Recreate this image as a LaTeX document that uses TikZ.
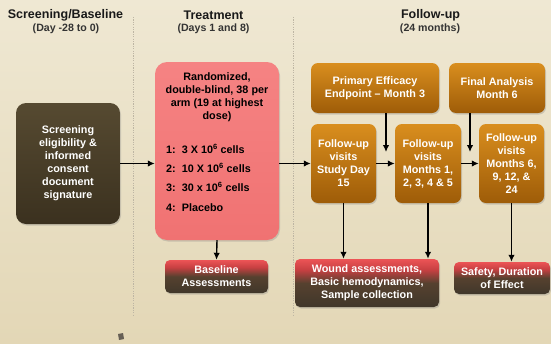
\documentclass[tikz,border=0pt]{standalone}
\usepackage{fontspec}
\setmainfont{Liberation Sans}
\usetikzlibrary{arrows.meta,shadows}
\definecolor{bgtop}{HTML}{EFE8D3}
\definecolor{bgbot}{HTML}{E3D7B6}
\definecolor{dktop}{HTML}{564A31}
\definecolor{dkbot}{HTML}{3B311F}
\definecolor{ortop}{HTML}{D98E1E}
\definecolor{orbot}{HTML}{9E5C08}
\definecolor{pktop}{HTML}{F58383}
\definecolor{pkbot}{HTML}{F07272}
\definecolor{dkb}{HTML}{40372A}
\definecolor{dkbtwo}{HTML}{56412F}
\definecolor{redc}{HTML}{C84042}
\definecolor{redt}{HTML}{EC5456}
\definecolor{sepcol}{HTML}{BDB5A3}
\pgfdeclareverticalshading{redtodark}{100bp}{color(0bp)=(dkb); color(25bp)=(dkb); color(50bp)=(dkbtwo); color(64bp)=(redc); color(75bp)=(redt); color(100bp)=(redt)}
\newcommand\boxfont{\fontsize{10.8}{13}\selectfont\bfseries}
\newcommand\headfont{\fontsize{12.5}{14}\selectfont\bfseries}
\newcommand\subfont{\fontsize{10.6}{13}\selectfont\bfseries}
\begin{document}
\begin{tikzpicture}[x=1pt,y=-1pt,
  shad/.style={drop shadow={shadow xshift=1pt,shadow yshift=-1.5pt,opacity=0.3}},
  base/.style={inner sep=0pt,align=center,font=\boxfont,shad},
  darkbox/.style={base,rounded corners=10pt,top color=dktop,bottom color=dkbot,text=white},
  orangebox/.style={base,rounded corners=7pt,top color=ortop,bottom color=orbot,text=white},
  rdbox/.style={base,rounded corners=5pt,shading=redtodark,text=white},
  pinkbox/.style={base,rounded corners=12pt,top color=pktop,bottom color=pkbot},
  head/.style={font=\headfont,text=black!90,inner sep=0pt},
  subhead/.style={font=\subfont,text=black!80,inner sep=0pt},
  arr/.style={-{Latex[length=7pt,width=6.5pt]},line width=1.4pt,black},
  sep/.style={draw=sepcol,line width=0.8pt,dash pattern=on 1.2pt off 1.2pt}
]
\useasboundingbox (0,0) rectangle (551,343);
\shade[top color=bgtop,bottom color=bgbot] (0,0) rectangle (551,343);
\fill[dkb!80] (118,334) -- (123,333) -- (124,339) -- (119,340) -- cycle;

% separators
\draw[sep] (133,17) -- (133,315);
\draw[sep] (293,17) -- (293,315);

% headers
\node[head] (h1) at (65.5,15) {Screening/Baseline};
\node[subhead] (s1) at (66,29) {(Day -28 to 0)};
\node[head] (h2) at (213.5,15) {Treatment};
\node[subhead] (s2) at (213.5,29) {(Days 1 and 8)};
\node[head] (h3) at (430.5,15) {Follow-up};
\node[subhead] (s3) at (430,29) {(24 months)};

% boxes
\node[darkbox,minimum width=104pt,minimum height=121pt] (dark) at (68,163.5)
  {Screening\\eligibility \&\\informed\\consent\\document\\signature};
\node[pinkbox,minimum width=124pt,minimum height=178pt] (pink) at (217,151) {};
\node[font=\boxfont,align=center,inner sep=0pt] (ptitle) at (217,97.5)
  {Randomized,\\double-blind, 38 per\\arm (19 at highest\\dose)};
\node[font=\fontsize{10.8}{19.3}\selectfont\bfseries,align=left,inner sep=0pt,anchor=west] (plist) at (166,177.5)
  {1:\ \ 3 X 10\textsuperscript{6} cells\\2:\ \ 10 X 10\textsuperscript{6} cells\\3:\ \ 30 x 10\textsuperscript{6} cells\\4:\ \ Placebo};
\node[rdbox,minimum width=103pt,minimum height=33pt] (bas) at (216.5,276.5) {Baseline\\Assessments};

\node[orangebox,minimum width=128pt,minimum height=50pt] (prim) at (375,88) {Primary Efficacy\\Endpoint – Month 3};
\node[orangebox,minimum width=96pt,minimum height=50pt] (fin) at (497,88) {Final Analysis\\Month 6};
\node[orangebox,minimum width=65pt,minimum height=79pt] (fu1) at (343.5,163.5) {Follow-up\\visits\\Study Day\\15};
\node[orangebox,minimum width=66pt,minimum height=79pt] (fu2) at (428,163.5) {Follow-up\\visits\\Months 1,\\2, 3, 4 \& 5};
\node[orangebox,minimum width=65pt,minimum height=79pt] (fu3) at (511.5,163.5) {Follow-up\\visits\\Months 6,\\9, 12, \&\\24};

\node[rdbox,minimum width=144pt,minimum height=48pt] (wound) at (367,283) {Wound assessments,\\Basic hemodynamics,\\Sample collection};
\node[rdbox,minimum width=96pt,minimum height=32pt] (safe) at (502,278) {Safety, Duration\\of Effect};

% free ends
\coordinate (pe) at (386,152);
\coordinate (fa) at (470,152);

% arrows
\draw[arr] (dark.east |- fu1.west) -- (pink.west |- fu1.west);
\draw[arr] (pink.east |- fu1.west) -- (fu1.west);
\draw[arr] (fu1.east) -- (fu2.west);
\draw[arr] (fu2.east) -- (fu3.west);
\draw[arr] (pink.south) -- (bas.north);
\draw[arr] (prim.south -| pe) -- (pe);
\draw[arr] (fin.south -| fa) -- (fa);
\draw[arr] (fu1.south) -- (fu1.south |- wound.north);
\draw[arr] (fu2.south) -- (fu2.south |- wound.north);
\draw[arr] (fu3.south) -- (fu3.south |- safe.north);
\end{tikzpicture}
\end{document}
